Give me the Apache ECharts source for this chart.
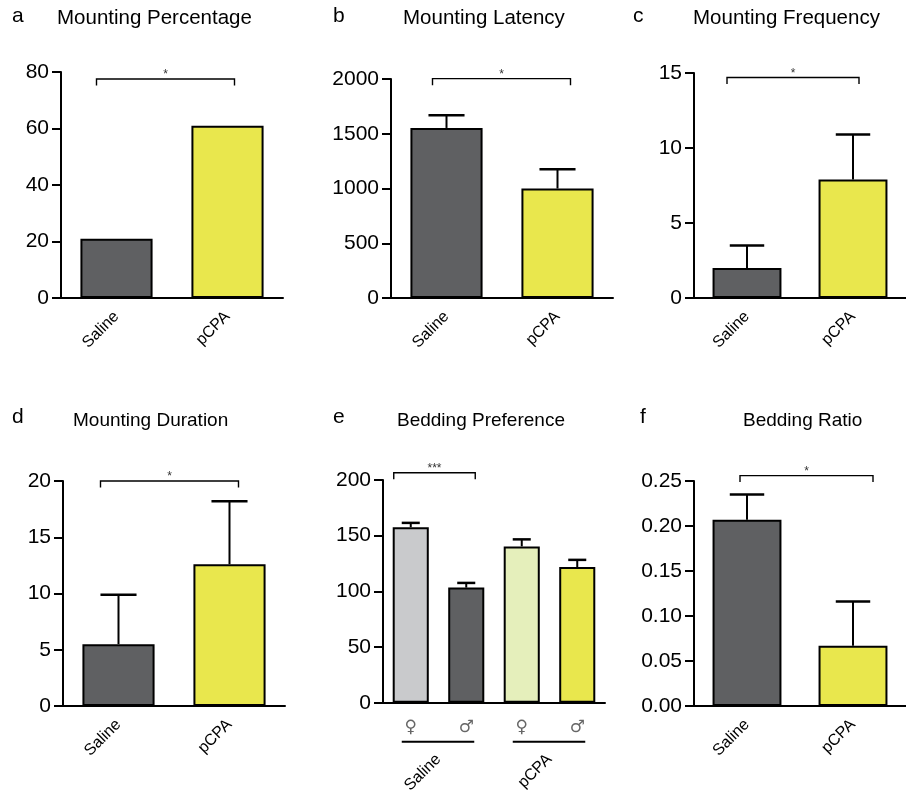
<!DOCTYPE html>
<html><head><meta charset="utf-8">
<script src="https://cdn.jsdelivr.net/npm/echarts@6/dist/echarts.min.js"></script>
<style>html,body{margin:0;padding:0;background:#fff}#c{width:906px;height:796px}</style>
</head><body><div id="c"></div>
<script>
// ---------- data ----------
const categories = ['Saline', 'pCPA'];
const sexCategories = ['♀', '♂', '♀', '♂'];
const groupCategories = ['Saline', 'pCPA'];

const pctMeans = [21, 61];
const latencyMeans = [1553, 1000];
const latencySEM = [116, 176];
const freqMeans = [2.0, 7.9];
const freqSEM = [1.5, 3.0];
const durMeans = [5.5, 12.6];
const durSEM = [4.4, 5.6];
const prefMeans = [157.6, 103.4, 140.4, 121.8];
const prefSEM = [3.9, 4.2, 6.3, 6.5];
const ratioMeans = [0.207, 0.067];
const ratioSEM = [0.028, 0.049];

const panelLetters = ['a', 'b', 'c', 'd', 'e', 'f'];
const panelTitles = ['Mounting Percentage', 'Mounting Latency', 'Mounting Frequency',
                     'Mounting Duration', 'Bedding Preference', 'Bedding Ratio'];
const yMax = [80, 2000, 15, 20, 200, 0.25];
const yInterval = [20, 500, 5, 5, 50, 0.05];
// significance brackets: [from category, to category, height in data units]
const bracketSpans = [[0, 1, 77.5], [0, 1, 2003], [0, 1, 14.7], [0, 1, 20], [0, 1, 206.5], [0, 1, 0.256]];
const bracketLabels = ['*', '*', '*', '*', '***', '*'];
const groupSpans = [[0, 1], [2, 3]];

// ---------- styles / layout ----------
const FONT = 'Arial, "Liberation Sans", Helvetica, sans-serif';
const DARK = '#5f6062', YEL = '#e9e74d', LGRAY = '#c9cacc', LYEL = '#e5efbb';
const panels = [
  { cats: categories, means: pctMeans, sem: null, colors: [DARK, YEL] },
  { cats: categories, means: latencyMeans, sem: latencySEM, colors: [DARK, YEL] },
  { cats: categories, means: freqMeans, sem: freqSEM, colors: [DARK, YEL] },
  { cats: categories, means: durMeans, sem: durSEM, colors: [DARK, YEL] },
  { cats: sexCategories, means: prefMeans, sem: prefSEM, colors: [LGRAY, DARK, LYEL, YEL] },
  { cats: categories, means: ratioMeans, sem: ratioSEM, colors: [DARK, YEL] }
];
const layout = [
  { left: 61, top: 72, width: 222, height: 226 },
  { left: 391, top: 79, width: 222, height: 219 },
  { left: 694, top: 73, width: 223, height: 225 },
  { left: 63, top: 481, width: 222, height: 225 },
  { left: 383, top: 480, width: 222, height: 225 },
  { left: 694, top: 481, width: 223, height: 225 }
];
const bracketPad = [[-20, 7], [-14, 13], [-20, 6], [-18, 9], [-17, 9], [-7, 20]];
const letterPos = [[12, 6], [333, 6], [633, 6], [12, 407], [333, 407], [640, 407]];
const titlePos = [[57, 8], [403, 8], [693, 8], [73, 411], [397, 411], [743, 411]];
const titleSize = [20.5, 20.5, 20.5, 19, 19, 19];

const chart = echarts.init(document.getElementById('c'), null, { renderer: 'canvas' });

const grid = [], xAxis = [], yAxis = [], series = [], title = [];
panels.forEach((p, i) => {
  grid.push(Object.assign({ containLabel: false }, layout[i]));
  const isSex = i === 4;
  xAxis.push({
    gridIndex: i, type: 'category', data: p.cats, boundaryGap: true,
    axisLine: { onZero: false, lineStyle: { color: '#000', width: 2 } },
    axisTick: { alignWithLabel: true, length: 8, lineStyle: { color: '#000', width: 2 } },
    axisLabel: isSex
      ? { interval: 0, rotate: 0, fontSize: 17, color: '#666', margin: 16, fontFamily: '"DejaVu Sans", sans-serif' }
      : { interval: 0, rotate: 45, fontSize: 16, color: '#000', margin: 16, fontFamily: FONT },
    splitLine: { show: false }
  });
  yAxis.push({
    gridIndex: i, type: 'value', min: 0, max: yMax[i], interval: yInterval[i],
    axisLine: { show: true, lineStyle: { color: '#000', width: 2 } },
    axisTick: { show: true, length: 9, lineStyle: { color: '#000', width: 2 } },
    splitLine: { show: false },
    axisLabel: {
      color: '#000', fontSize: 21, fontFamily: FONT, margin: 12,
      formatter: i === 5 ? (v => v.toFixed(2)) : (v => String(v))
    }
  });
  series.push({
    type: 'bar', xAxisIndex: i, yAxisIndex: i, barWidth: '65%', silent: true, z: 2,
    itemStyle: { borderColor: '#000', borderWidth: 2 },
    data: p.means.map((v, k) => ({ value: v, itemStyle: { color: p.colors[k] } }))
  });
  if (p.sem) {
    series.push({
      type: 'custom', xAxisIndex: i, yAxisIndex: i, clip: false, silent: true, z: 3,
      data: p.means.map((m, k) => [k, m, p.sem[k]]),
      renderItem: (params, api) => {
        const k = api.value(0), m = api.value(1), e = api.value(2);
        const base = api.coord([k, m]), top = api.coord([k, m + e]);
        const half = api.size([1, 0])[0] * 0.65 / 4;
        return { type: 'group', children: [
          { type: 'line', shape: { x1: base[0], y1: base[1], x2: top[0], y2: top[1] }, style: { stroke: '#000', lineWidth: 2 } },
          { type: 'line', shape: { x1: top[0] - half, y1: top[1], x2: top[0] + half, y2: top[1] }, style: { stroke: '#000', lineWidth: 2.5 } }
        ] };
      }
    });
  }
  const pad = bracketPad[i], lab = bracketLabels[i];
  series.push({
    type: 'custom', xAxisIndex: i, yAxisIndex: i, clip: false, silent: true, z: 4,
    data: [bracketSpans[i]],
    renderItem: (params, api) => {
      const a = api.coord([api.value(0), api.value(2)]);
      const b = api.coord([api.value(1), api.value(2)]);
      const x1 = a[0] + pad[0], x2 = b[0] + pad[1], y = a[1];
      return { type: 'group', children: [
        { type: 'polyline', shape: { points: [[x1, y + 6.5], [x1, y], [x2, y], [x2, y + 6.5]] },
          style: { stroke: '#000', lineWidth: 1.4, fill: null } },
        { type: 'text', style: { text: lab, x: (x1 + x2) / 2, y: y + 2, align: 'center', verticalAlign: 'bottom',
          textAlign: 'center', textVerticalAlign: 'bottom', fontSize: 12, fontFamily: FONT, fill: '#333' } }
      ] };
    }
  });
  title.push({ text: panelLetters[i], left: letterPos[i][0], top: letterPos[i][1], padding: 0,
    textStyle: { fontSize: 21, fontWeight: 'normal', color: '#000', fontFamily: FONT } });
  title.push({ text: panelTitles[i], left: titlePos[i][0], top: titlePos[i][1], padding: 0,
    textStyle: { fontSize: titleSize[i], fontWeight: 'normal', color: '#000', fontFamily: FONT } });
});

// group axis for panel e
xAxis.push({
  gridIndex: 4, type: 'category', data: groupCategories, position: 'bottom', offset: 44,
  axisLine: { show: false }, axisTick: { show: false }, splitLine: { show: false },
  axisLabel: { interval: 0, rotate: 45, fontSize: 16, color: '#000', margin: 10, fontFamily: FONT }
});
// group underline for panel e
series.push({
  type: 'custom', xAxisIndex: 4, yAxisIndex: 4, clip: false, silent: true, z: 4,
  data: groupSpans,
  renderItem: (params, api) => {
    const a = api.coord([api.value(0), 0]);
    const b = api.coord([api.value(1), 0]);
    const y = a[1] + 39;
    return { type: 'line', shape: { x1: a[0] - 9, y1: y, x2: b[0] + 8, y2: y }, style: { stroke: '#000', lineWidth: 2.2 } };
  }
});

chart.setOption({
  animation: false,
  backgroundColor: '#fff',
  title, grid, xAxis, yAxis, series
});
</script>
</body></html>
